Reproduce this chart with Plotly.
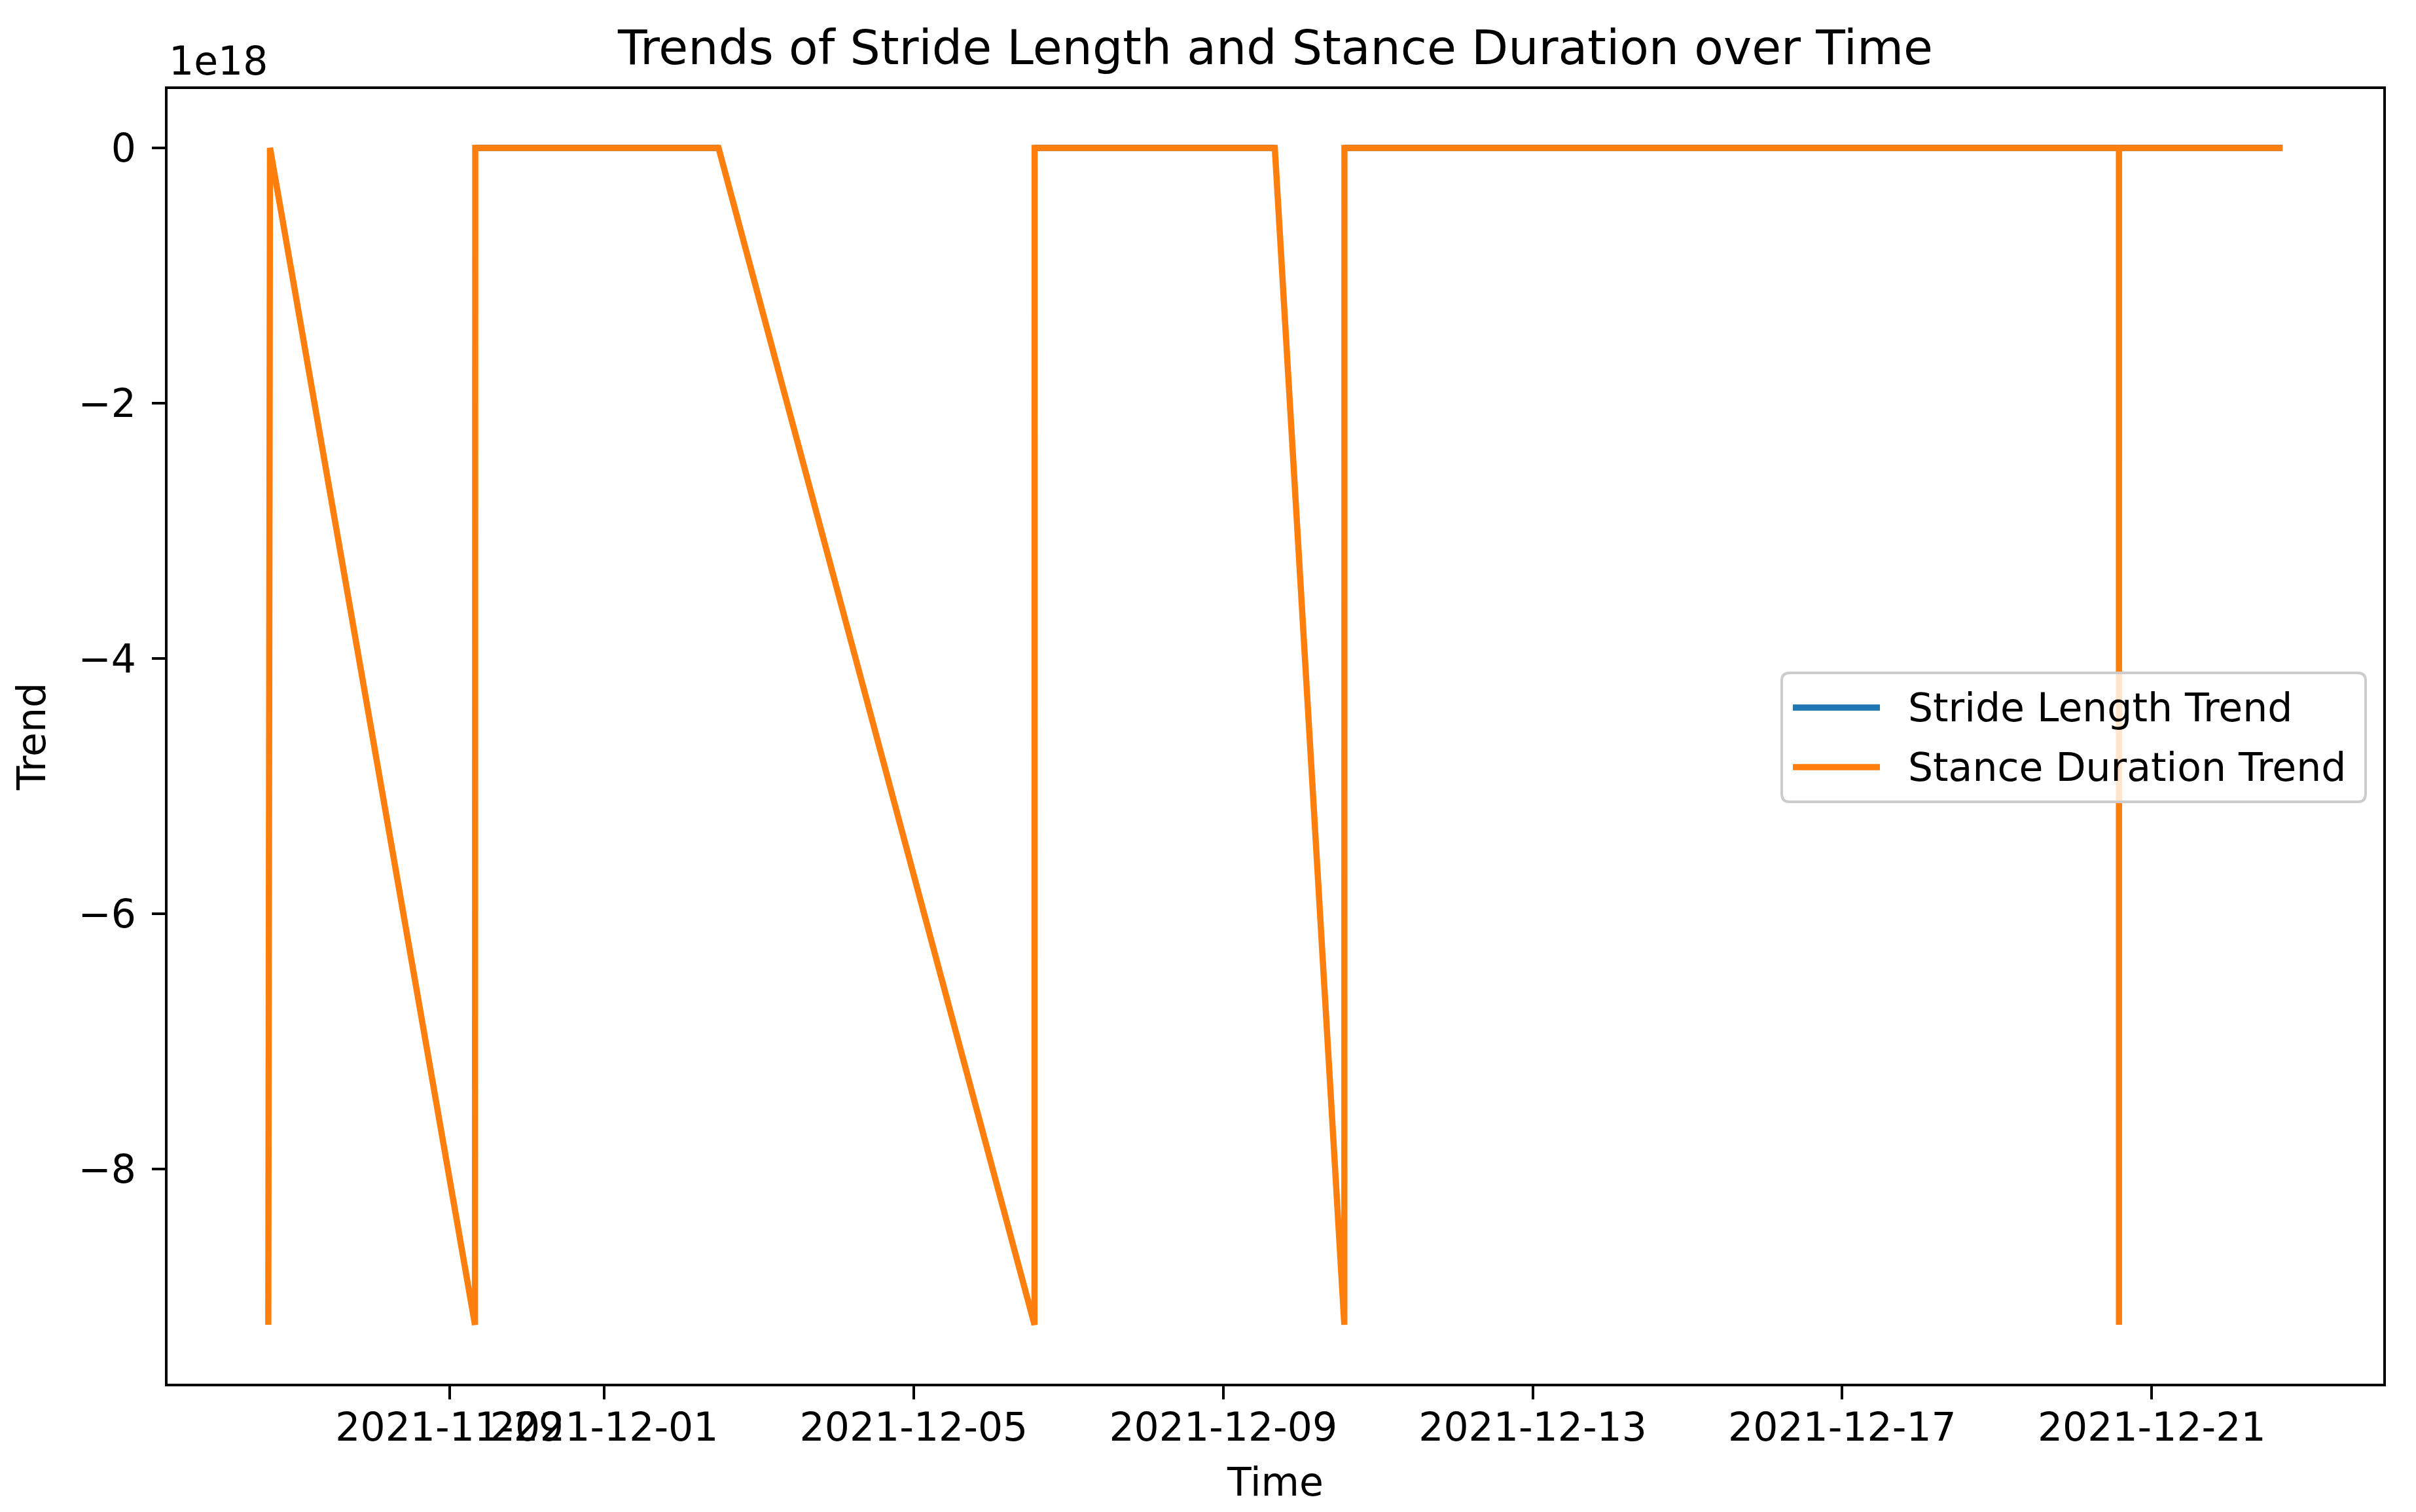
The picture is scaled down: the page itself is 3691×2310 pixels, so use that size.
import plotly.graph_objects as go
import pandas as pd

# ---------------- data ----------------
NAT_AS_INT = -9.223372036854776e18  # NaT cast to int64

times = [
    "2021-11-26 15:48", "2021-11-26 16:20",
    "2021-11-29 07:55", "2021-11-29 08:00",
    "2021-12-02 11:28",
    "2021-12-06 13:28", "2021-12-06 13:30",
    "2021-12-09 16:00",
    "2021-12-10 13:34", "2021-12-10 13:36",
    "2021-12-20 13:50", "2021-12-20 13:51", "2021-12-20 13:52",
    "2021-12-22 16:35",
]
stance_trend = [NAT_AS_INT, 0, NAT_AS_INT, 0, 0, NAT_AS_INT, 0, 0,
                NAT_AS_INT, 0, 0, NAT_AS_INT, 0, 0]
stride_trend = [None, 0, None, 0, 0, None, 0, 0,
                None, 0, 0, None, 0, 0]

x_tick_vals = ["2021-11-29", "2021-12-01", "2021-12-05", "2021-12-09",
               "2021-12-13", "2021-12-17", "2021-12-21"]
y_tick_vals = [0, -2e18, -4e18, -6e18, -8e18]
y_tick_text = ["0", "\u22122", "\u22124", "\u22126", "\u22128"]

series_names = ["Stride Length Trend", "Stance Duration Trend"]
series_colors = ["#1f77b4", "#ff7f0e"]

# ---------------- layout constants ----------------
W, H = 3691, 2310
L, R, T, B = 248, 3633, 128, 2106
FONT = "DejaVu Sans"
TICK_SIZE = 60
TITLE_SIZE = 73
LINE_W = 9.5

def px2x(px):
    return (px - L) / (R - L)

def py2y(py):
    return (B - py) / (B - T)

# axis ranges with matplotlib-like 5% margins
t = pd.to_datetime(pd.Series(times))
tmin, tmax = t.min(), t.max()
tpad = (tmax - tmin) * 0.05
x_range = [(tmin - tpad).strftime("%Y-%m-%d %H:%M:%S"), (tmax + tpad).strftime("%Y-%m-%d %H:%M:%S")]
vals = [v for v in stance_trend + stride_trend if v is not None]
ymin, ymax = min(vals), max(vals)
ypad = (ymax - ymin) * 0.05
y_range = [ymin - ypad, ymax + ypad]

fig = go.Figure()
fig.add_trace(go.Scatter(x=times, y=stride_trend, mode="lines", name=series_names[0],
                         line=dict(color=series_colors[0], width=LINE_W), connectgaps=False,
                         showlegend=False))
fig.add_trace(go.Scatter(x=times, y=stance_trend, mode="lines", name=series_names[1],
                         line=dict(color=series_colors[1], width=LINE_W),
                         showlegend=False))

axis_common = dict(showline=True, linecolor="black", linewidth=4, mirror=True,
                   ticks="outside", ticklen=20, tickwidth=4, tickcolor="black",
                   showgrid=False, zeroline=False, automargin=False, tickangle=0,
                   tickfont=dict(family=FONT, size=TICK_SIZE, color="black"))

fig.update_xaxes(type="date", range=x_range, tickmode="array", tickvals=x_tick_vals,
                 ticktext=x_tick_vals, ticklabelstandoff=-9,
                 title=dict(text="Time", font=dict(family=FONT, size=TICK_SIZE, color="black"),
                            standoff=30),
                 **axis_common)
fig.update_yaxes(range=y_range, tickmode="array", tickvals=y_tick_vals, ticktext=y_tick_text,
                 ticklabelstandoff=12,
                 title=dict(text="Trend", font=dict(family=FONT, size=TICK_SIZE, color="black"),
                            standoff=32),
                 **axis_common)

# ---------------- legend drawn like matplotlib's ----------------
lx0, lx1, ly0, ly1 = 2714, 3606, 1020, 1217
rad = 12
rx, ry = rad / (R - L), rad / (B - T)
x0, x1, y0, y1 = px2x(lx0), px2x(lx1), py2y(ly1), py2y(ly0)
path = (f"M{x0+rx},{y0} L{x1-rx},{y0} Q{x1},{y0} {x1},{y0+ry} "
        f"L{x1},{y1-ry} Q{x1},{y1} {x1-rx},{y1} "
        f"L{x0+rx},{y1} Q{x0},{y1} {x0},{y1-ry} "
        f"L{x0},{y0+ry} Q{x0},{y0} {x0+rx},{y0} Z")
shapes = [dict(type="path", path=path, xref="paper", yref="paper",
               fillcolor="rgba(255,255,255,0.8)", line=dict(color="rgba(204,204,204,1)", width=4),
               layer="above")]
annotations = []
item_y = [1073, 1164]
for name, col, yy in zip(series_names, series_colors, item_y):
    shapes.append(dict(type="line", xref="paper", yref="paper",
                       x0=px2x(2731), x1=px2x(2864), y0=py2y(yy), y1=py2y(yy),
                       line=dict(color=col, width=LINE_W), layer="above"))
    annotations.append(dict(text=name, xref="paper", yref="paper", x=px2x(2905), y=py2y(yy),
                            xanchor="left", yanchor="middle", showarrow=False,
                            font=dict(family=FONT, size=TICK_SIZE, color="black")))

# offset text for the y axis
annotations.append(dict(text="1e18", xref="paper", yref="paper", x=0, y=1, yshift=6,
                        xanchor="left", yanchor="bottom", showarrow=False,
                        font=dict(family=FONT, size=TICK_SIZE, color="black")))

fig.update_layout(
    width=W, height=H, autosize=False,
    margin=dict(l=L, r=W - R, t=T, b=H - B, pad=0),
    paper_bgcolor="white", plot_bgcolor="white",
    title=dict(text="Trends of Stride Length and Stance Duration over Time",
               x=(L + R) / 2 / W, xanchor="center", y=1 - 64 / H, yanchor="middle",
               font=dict(family=FONT, size=TITLE_SIZE, color="black")),
    shapes=shapes, annotations=annotations, showlegend=False,
)

fig.write_html("out.html")
